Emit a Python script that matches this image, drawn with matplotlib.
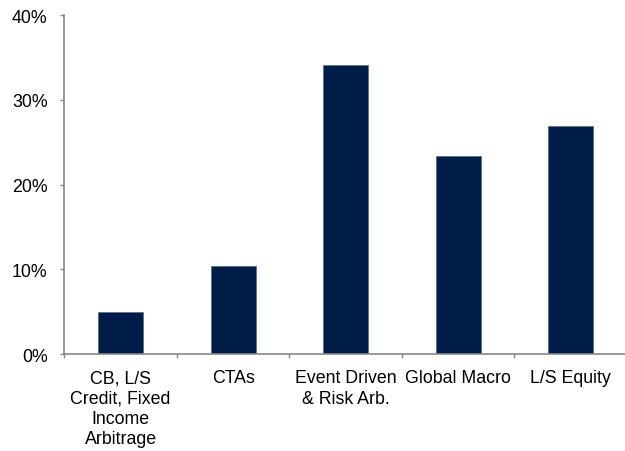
import matplotlib.pyplot as plt
import numpy as np
from matplotlib.ticker import FuncFormatter

plt.rcParams['font.family'] = ['Liberation Sans', 'DejaVu Sans']

# hedge fund strategy shares
categories = ['CB, L/S\nCredit, Fixed\nIncome\nArbitrage', 'CTAs',
              'Event Driven\n& Risk Arb.', 'Global Macro', 'L/S Equity']
values = [5.0, 10.4, 34.1, 23.4, 26.9]

navy = '#001D4A'
grey = '#878787'
fs = 12.8

fig = plt.figure(figsize=(6.25, 4.52), dpi=100)
ax = fig.add_axes([0.103, 0.2146, 0.9, 0.75])

x = np.arange(len(categories))
ax.bar(x, values, width=0.4, color=navy, edgecolor='#5b6e8c', linewidth=0.6)

ax.set_xlim(-0.5, len(categories) - 0.5)
ax.set_ylim(0, 40)
ax.set_yticks([0, 10, 20, 30, 40])
ax.yaxis.set_major_formatter(FuncFormatter(lambda v, p: f'{v:.0f}%'))

# ticks sit on category boundaries, labels in the middle
ax.set_xticks(np.arange(len(categories) + 1) - 0.5)
ax.set_xticklabels([])
ax.set_xticks(x, minor=True)
ax.set_xticklabels(categories, minor=True, linespacing=1.26)
ax.tick_params(axis='x', which='minor', length=0, pad=11, labelsize=fs)
ax.tick_params(axis='x', which='major', length=3, width=1, color=grey, direction='out')
ax.tick_params(axis='y', length=3, width=1, color=grey, direction='out', pad=9, labelsize=fs)

for s in ['top', 'right']:
    ax.spines[s].set_visible(False)
for s in ['left', 'bottom']:
    ax.spines[s].set_color(grey)
    ax.spines[s].set_linewidth(1.2)

fig.savefig('out.png', dpi=100)
